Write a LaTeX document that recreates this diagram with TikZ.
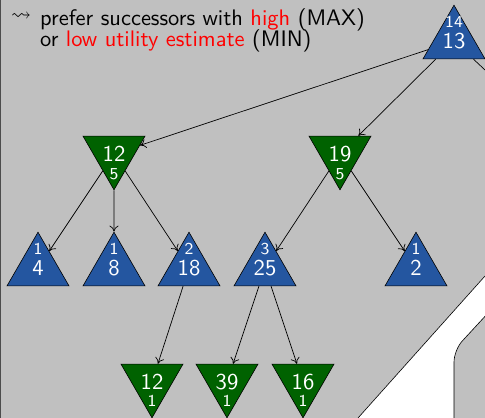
\documentclass[tikz,border=0pt]{standalone}
\usepackage{amssymb}
\usepackage{graphicx}
\usetikzlibrary{shapes.geometric,arrows.meta}
\definecolor{bg}{RGB}{192,192,192}
\definecolor{maxblue}{RGB}{36,86,160}
\definecolor{mingreen}{RGB}{0,98,0}
\newcommand{\BigNum}[1]{\scalebox{2.1}{\sffamily\fontsize{10.8}{12}\selectfont #1}}
\newcommand{\SmNum}[1]{\scalebox{2.15}{\sffamily\fontsize{7.75}{9}\selectfont #1}}
\newcommand{\TxtS}[1]{\scalebox{2.08}{\sffamily\fontsize{10.8}{13}\selectfont #1}}
\begin{document}
\begin{tikzpicture}[x=1pt,y=-1pt,
  maxnode/.style={regular polygon, regular polygon sides=3, minimum size=71.6pt,
    inner sep=0pt, fill=maxblue, draw=black, line width=0.6pt, text=white},
  minnode/.style={maxnode, fill=mingreen, shape border rotate=180},
  smalllbl/.style={text=white, inner sep=0pt},
  txt/.style={anchor=base west, inner sep=0pt},
  edge/.style={-{Computer Modern Rightarrow[length=6pt,width=9pt]}, line width=0.7pt}]
\useasboundingbox (0,0) rectangle (485,418);
\clip (0,0) rectangle (485,418);
\fill[bg] (0,0) rectangle (485,418);
\draw[line width=1.2pt, black!70] (0.6,0) -- (0.6,418);
% white band bottom right
\fill[white] (358,418) -- (485,276) -- (495,276) -- (495,425) -- (358,425) -- cycle;
\draw[line width=0.6pt] (358,418) -- (485,276);
\draw[fill=bg, line width=0.6pt, rounded corners=12pt] (495,305.5) -- (454,350) -- (454,430) -- (495,430);
% text
\node[inner sep=0pt] (sq) at (21,17) {\scalebox{2}{$\leadsto$}};
\node[txt] (t1) at (40,25) {\TxtS{prefer successors with \textcolor{red}{high} (MAX)}};
\node[txt] (t2) at (40,46) {\TxtS{or \textcolor{red}{low utility estimate} (MIN)}};
% nodes
\node[maxnode] (r) at (454,41) {\BigNum{13}};
\node[minnode] (m1) at (114,154) {\BigNum{12}};
\node[minnode] (m2) at (340,154) {\BigNum{19}};
\node[maxnode] (l1) at (38,268) {\BigNum{4}};
\node[maxnode] (l2) at (114,268) {\BigNum{8}};
\node[maxnode] (l3) at (189,268) {\BigNum{18}};
\node[maxnode] (l4) at (265,268) {\BigNum{25}};
\node[maxnode] (l5) at (416,268) {\BigNum{2}};
\node[minnode] (b1) at (152,382) {\BigNum{12}};
\node[minnode] (b2) at (227,382) {\BigNum{39}};
\node[minnode] (b3) at (303,382) {\BigNum{16}};
\coordinate (r3) at (575,154);
% small labels
\node[smalllbl] (rs) at (454,22) {\SmNum{14}};
\node[smalllbl] (m1s) at (114,174) {\SmNum{5}};
\node[smalllbl] (m2s) at (340,174) {\SmNum{5}};
\node[smalllbl] (l1s) at (38,249) {\SmNum{1}};
\node[smalllbl] (l2s) at (114,249) {\SmNum{1}};
\node[smalllbl] (l3s) at (189,249) {\SmNum{2}};
\node[smalllbl] (l4s) at (265,249) {\SmNum{3}};
\node[smalllbl] (l5s) at (416,249) {\SmNum{1}};
\node[smalllbl] (b1s) at (152,401) {\SmNum{1}};
\node[smalllbl] (b2s) at (227,401) {\SmNum{1}};
\node[smalllbl] (b3s) at (303,401) {\SmNum{1}};
% edges
\draw[edge] (r) -- (m1);
\draw[edge] (r) -- (m2);
\draw[edge] (r) -- (r3);
\draw[edge] (m1) -- (l1);
\draw[edge] (m1) -- (l2);
\draw[edge] (m1) -- (l3);
\draw[edge] (m2) -- (l4);
\draw[edge] (m2) -- (l5);
\draw[edge] (l3) -- (b1);
\draw[edge] (l4) -- (b2);
\draw[edge] (l4) -- (b3);
\end{tikzpicture}
\end{document}
